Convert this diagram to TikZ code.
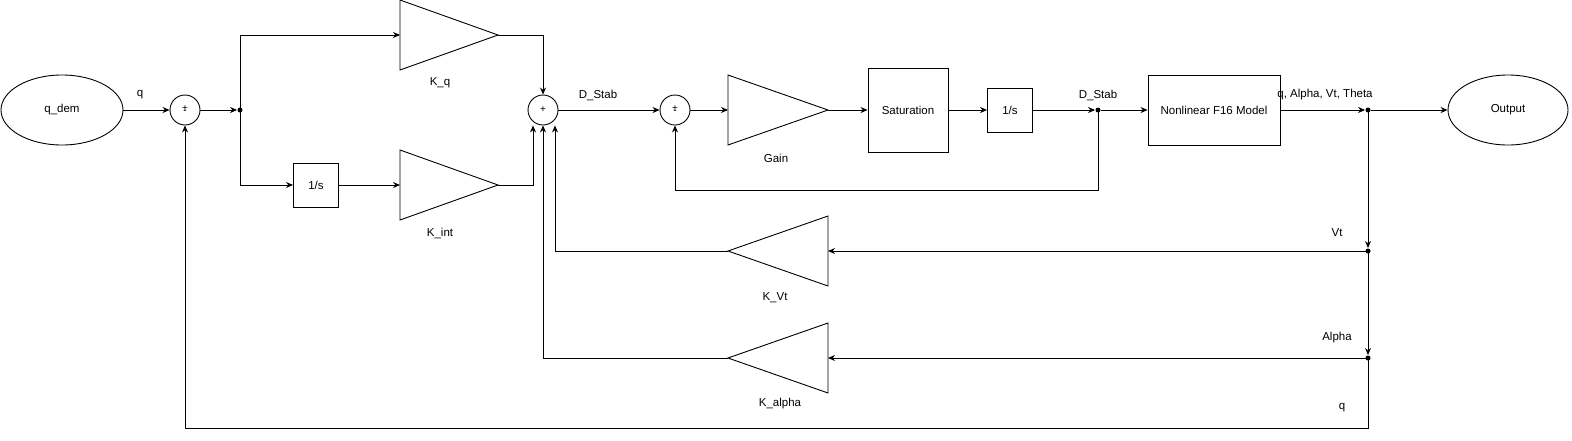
\documentclass[tikz,border=0pt]{standalone}
\usepackage{fontspec}
\setmainfont{Liberation Sans}
\usetikzlibrary{arrows.meta,shapes.geometric}
\begin{document}
\begin{tikzpicture}[x=1pt,y=-1pt,font=\fontsize{11.5}{13}\selectfont,
  line width=0.9pt,
  arr/.style={-{Stealth[length=7pt,width=6pt]}},
  sumj/.style={draw,circle,minimum size=30pt,inner sep=0},
  tri/.style={draw},
  dotc/.style={circle,fill,inner sep=0,minimum size=5pt}]
\useasboundingbox (0,0) rectangle (1572,440);
% gain triangle macro-like paths: base (x0), apex (x1), center y, half height 35
\newcommand{\rtri}[4]{% name, basex, apexx, y
  \coordinate (#1-in) at (#2,#4); \coordinate (#1-out) at (#3,#4);
  \draw (#2,#4-35) -- (#3,#4) -- (#2,#4+35) -- cycle;}
\node[draw,ellipse,minimum width=122pt,minimum height=70pt] (qdem) at (62,110) {q\_dem};
\node[sumj] (s1) at (185,110) {};
\node[font=\fontsize{10}{10}\selectfont] at (185,110) {\shortstack{+\\[-4pt]-}};
\node[dotc] (b1) at (240,110) {};
\rtri{kq}{400}{498}{35}
\node at (440,83) {K\_q};
\node[draw,minimum width=45pt,minimum height=44pt] (int1) at (316,185) {1/s};
\rtri{kint}{400}{498}{185}
\node at (440,233) {K\_int};
\node[sumj] (s2) at (543,110) {};
\node[font=\fontsize{10}{10}\selectfont] at (543,110) {+};
\node[sumj] (s3) at (675,110) {};
\node[font=\fontsize{10}{10}\selectfont] at (675,110) {\shortstack{+\\[-4pt]-}};
\rtri{gain}{728}{828}{110}
\node at (776,158) {Gain};
\node[draw,minimum width=80pt,minimum height=84pt] (sat) at (908,110) {Saturation};
\node[draw,minimum width=45pt,minimum height=44pt] (int2) at (1010,110) {1/s};
\node[dotc] (b2) at (1098,110) {};
\node[draw,minimum width=132pt,minimum height=70pt] (f16) at (1214,110) {Nonlinear F16 Model};
\node[dotc] (b3) at (1368,110) {};
\node[draw,ellipse,minimum width=120pt,minimum height=70pt] (out) at (1508,110) {Output};
\rtri{kvt}{828}{728}{251}
\node at (775,298) {K\_Vt};
\rtri{kal}{828}{728}{358}
\node at (780,404) {K\_alpha};
\node[dotc] (b4) at (1368,251) {};
\node[dotc] (b5) at (1368,358) {};
\coordinate (c1) at (1368,428);
% labels
\node at (140,95) {q};
\node at (598,95) {D\_Stab};
\node at (1098,95) {D\_Stab};
\node at (1325,95) {q, Alpha, Vt, Theta};
\node at (1337,233) {Vt};
\node at (1337,338) {Alpha};
\node at (1342,408) {q};
% connectors
\draw[arr] (qdem) -- (s1);
\draw[arr] (s1) -- (b1);
\draw[arr] (b1.center) |- (kq-in);
\draw[arr] (b1.center) |- (int1);
\draw[arr] (int1) -- (kint-in);
\draw[arr] (kq-out) -| (s2.north);
\draw[arr] (kint-out) -| ([xshift=-10pt]s2.south);
\draw[arr] (kvt-out) -| ([xshift=12pt]s2.south);
\draw[arr] (kal-out) -| (s2.south);
\draw[arr] (s2) -- (s3);
\draw[arr] (s3) -- (gain-in);
\draw[arr] (gain-out) -- (sat);
\draw[arr] (sat) -- (int2);
\draw[arr] (int2) -- (b2);
\draw[arr] (b2) -- (f16);
\draw[arr] (b2.center) -- ++(0,80) -| (s3.south);
\draw[arr] (f16) -- (b3);
\draw[arr] (b3) -- (out);
\draw[arr] (b3.center) -- (b4);
\draw[arr] (b4.center) -- (b5);
\draw[arr] (b4.center) -- (kvt-in);
\draw[arr] (b5.center) -- (kal-in);
\draw[arr] (b5.center) -- (c1) -| (s1.south);
\end{tikzpicture}
\end{document}
